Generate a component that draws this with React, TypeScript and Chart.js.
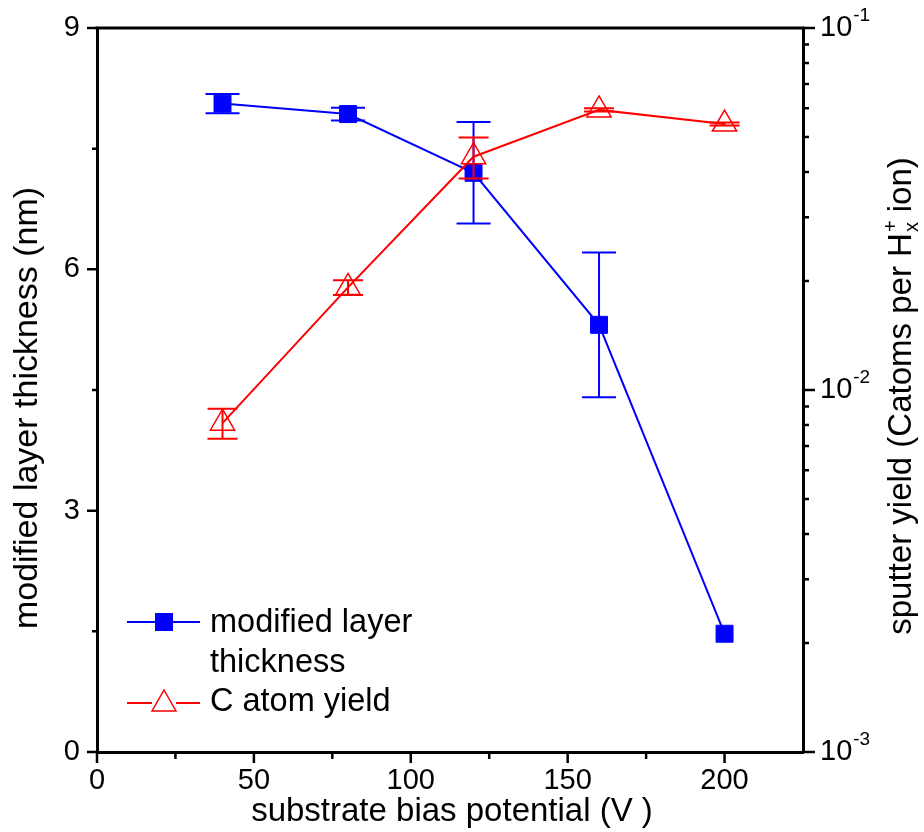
import React, { useEffect, useRef } from "react";
import { Chart, registerables } from "chart.js";

Chart.register(...registerables);

// ---- data ----
const biasV = [40, 80, 120, 160, 200];
const thickness = [8.06, 7.93, 7.2, 5.31, 1.47];
const thicknessErr = [0.12, 0.08, 0.63, 0.9, 0];
const cYield = [0.0081, 0.0192, 0.0441, 0.0594, 0.0543];
const cYieldErr = [0.00077, 0.0009, 0.0057, 0.0006, 0.0005];

const xTicks = [0, 50, 100, 150, 200];
const xMinorTicks = [25, 75, 125, 175];
const leftTicks = [0, 3, 6, 9];
const leftMinorTicks = [1.5, 4.5, 7.5];
const rightTickExps = [-1, -2, -3];

const xTitle = "substrate bias potential (V )";
const leftTitle = "modified layer thickness (nm)";
const rightTitleMain = "sputter yield (Catoms per H";
const rightTitleSup = "+";
const rightTitleSub = "x";
const rightTitleEnd = " ion)";
const legendBlue = ["modified layer", "thickness"];
const legendRed = "C atom yield";

const FONT = '"Liberation Sans", Arial, Helvetica, sans-serif';
const BLUE = "#0000ff";
const RED = "#ff0000";

const zeroPad = (s: any) => {
  s.paddingTop = 0;
  s.paddingBottom = 0;
  s.paddingLeft = 0;
  s.paddingRight = 0;
};

const extrasPlugin = {
  id: "extras",
  beforeDatasetsDraw(chart: any) {
    const ctx = chart.ctx;
    const xs = chart.scales.x;
    const yl = chart.scales.y;
    ctx.save();
    ctx.lineWidth = 2;
    ctx.strokeStyle = BLUE;
    biasV.forEach((v, i) => {
      const e = thicknessErr[i];
      if (!e) return;
      const px = xs.getPixelForValue(v);
      const y1 = yl.getPixelForValue(thickness[i] + e);
      const y2 = yl.getPixelForValue(thickness[i] - e);
      ctx.beginPath();
      ctx.moveTo(px, y1);
      ctx.lineTo(px, y2);
      ctx.moveTo(px - 17, y1);
      ctx.lineTo(px + 17, y1);
      ctx.moveTo(px - 17, y2);
      ctx.lineTo(px + 17, y2);
      ctx.stroke();
    });
    ctx.restore();
  },
  afterDatasetsDraw(chart: any) {
    const ctx = chart.ctx;
    const xs = chart.scales.x;
    const yr = chart.scales.y2;
    ctx.save();
    ctx.lineWidth = 2;
    ctx.strokeStyle = RED;
    biasV.forEach((v, i) => {
      const e = cYieldErr[i];
      if (!e) return;
      const px = xs.getPixelForValue(v);
      const y1 = yr.getPixelForValue(cYield[i] + e);
      const y2 = yr.getPixelForValue(cYield[i] - e);
      ctx.beginPath();
      ctx.moveTo(px, y1);
      ctx.lineTo(px, y2);
      ctx.moveTo(px - 15, y1);
      ctx.lineTo(px + 15, y1);
      ctx.moveTo(px - 15, y2);
      ctx.lineTo(px + 15, y2);
      ctx.stroke();
    });
    ctx.restore();
  },
  afterDraw(chart: any) {
    const ctx = chart.ctx;
    const ca = chart.chartArea;
    const xs = chart.scales.x;
    const yl = chart.scales.y;
    const yr = chart.scales.y2;
    ctx.save();
    ctx.strokeStyle = "#000";
    ctx.fillStyle = "#000";
    // top frame
    ctx.lineWidth = 3;
    ctx.beginPath();
    ctx.moveTo(ca.left - 1.5, ca.top);
    ctx.lineTo(ca.right + 1.5, ca.top);
    ctx.stroke();
    // tick marks
    ctx.lineWidth = 2.5;
    ctx.beginPath();
    xTicks.forEach((v) => {
      const p = xs.getPixelForValue(v);
      ctx.moveTo(p, ca.bottom);
      ctx.lineTo(p, ca.bottom + 11);
    });
    xMinorTicks.forEach((v) => {
      const p = xs.getPixelForValue(v);
      ctx.moveTo(p, ca.bottom);
      ctx.lineTo(p, ca.bottom + 7);
    });
    leftTicks.forEach((v) => {
      const p = yl.getPixelForValue(v);
      ctx.moveTo(ca.left, p);
      ctx.lineTo(ca.left - 10, p);
    });
    leftMinorTicks.forEach((v) => {
      const p = yl.getPixelForValue(v);
      ctx.moveTo(ca.left, p);
      ctx.lineTo(ca.left - 5, p);
    });
    rightTickExps.forEach((k) => {
      const p = yr.getPixelForValue(Math.pow(10, k));
      ctx.moveTo(ca.right, p);
      ctx.lineTo(ca.right + 12, p);
      if (k > -3) {
        for (let m = 2; m <= 9; m++) {
          const q = yr.getPixelForValue(m * Math.pow(10, k - 1));
          ctx.moveTo(ca.right, q);
          ctx.lineTo(ca.right + 6, q);
        }
      }
    });
    ctx.stroke();

    // right tick labels 10^k
    rightTickExps.forEach((k) => {
      const p = yr.getPixelForValue(Math.pow(10, k));
      ctx.font = `29px ${FONT}`;
      ctx.textAlign = "left";
      ctx.textBaseline = "middle";
      const x0 = ca.right + 17;
      ctx.fillText("10", x0, p);
      const w = ctx.measureText("10").width;
      ctx.font = `19px ${FONT}`;
      ctx.fillText(String(k), x0 + w + 1, p - 12);
    });

    // axis titles
    ctx.font = `33px ${FONT}`;
    ctx.textAlign = "center";
    ctx.textBaseline = "middle";
    ctx.fillText(xTitle, 452, 812);

    ctx.save();
    ctx.font = `34px ${FONT}`;
    ctx.translate(28, 408);
    ctx.rotate(-Math.PI / 2);
    ctx.fillText(leftTitle, 0, 0);
    ctx.restore();

    ctx.save();
    ctx.translate(902, 396);
    ctx.rotate(-Math.PI / 2);
    ctx.textAlign = "left";
    ctx.font = `33px ${FONT}`;
    const w1 = ctx.measureText(rightTitleMain).width;
    const w3 = ctx.measureText(rightTitleEnd).width;
    ctx.font = `20px ${FONT}`;
    const w2 = Math.max(ctx.measureText(rightTitleSup).width, ctx.measureText(rightTitleSub).width);
    const total = w1 + w2 + w3;
    let cx = -total / 2;
    ctx.font = `33px ${FONT}`;
    ctx.fillText(rightTitleMain, cx, 0);
    cx += w1;
    ctx.font = `20px ${FONT}`;
    ctx.fillText(rightTitleSup, cx + 1, -11);
    ctx.fillText(rightTitleSub, cx + 1, 10);
    cx += w2;
    ctx.font = `33px ${FONT}`;
    ctx.fillText(rightTitleEnd, cx, 0);
    ctx.restore();

    // legend
    ctx.lineWidth = 2;
    ctx.strokeStyle = BLUE;
    ctx.beginPath();
    ctx.moveTo(127, 622);
    ctx.lineTo(200, 622);
    ctx.stroke();
    ctx.fillStyle = BLUE;
    ctx.fillRect(155, 613, 18, 18);
    ctx.strokeStyle = RED;
    ctx.beginPath();
    ctx.moveTo(127, 703);
    ctx.lineTo(152, 703);
    ctx.moveTo(176, 703);
    ctx.lineTo(200, 703);
    ctx.stroke();
    ctx.lineWidth = 1.5;
    ctx.beginPath();
    ctx.moveTo(164, 690);
    ctx.lineTo(176, 711);
    ctx.lineTo(152, 711);
    ctx.closePath();
    ctx.stroke();

    ctx.fillStyle = "#000";
    ctx.font = `32.5px ${FONT}`;
    ctx.textAlign = "left";
    ctx.textBaseline = "alphabetic";
    ctx.fillText(legendBlue[0], 210, 632);
    ctx.fillText(legendBlue[1], 210, 672);
    ctx.fillText(legendRed, 210, 711);
    ctx.restore();
  },
};

export default function App() {
  const ref = useRef<HTMLCanvasElement | null>(null);
  useEffect(() => {
    if (!ref.current) return;
    const chart = new Chart(ref.current, {
      type: "line",
      data: {
        datasets: [
          {
            label: "modified layer thickness",
            data: biasV.map((x, i) => ({ x, y: thickness[i] })),
            yAxisID: "y",
            borderColor: BLUE,
            backgroundColor: BLUE,
            borderWidth: 2,
            pointStyle: "rect",
            pointRadius: 12,
            pointHoverRadius: 12,
            pointBorderWidth: 1,
            pointBackgroundColor: BLUE,
            pointBorderColor: BLUE,
            tension: 0,
            order: 2,
            clip: false,
          } as any,
          {
            label: "C atom yield",
            data: biasV.map((x, i) => ({ x, y: cYield[i] })),
            yAxisID: "y2",
            borderColor: RED,
            backgroundColor: "rgba(0,0,0,0)",
            borderWidth: 2,
            pointStyle: "triangle",
            pointRadius: 14,
            pointHoverRadius: 14,
            pointBorderWidth: 1.5,
            pointBackgroundColor: "rgba(0,0,0,0)",
            pointBorderColor: RED,
            tension: 0,
            order: 1,
            clip: false,
          } as any,
        ],
      },
      options: {
        responsive: false,
        animation: false,
        events: [],
        layout: { padding: { top: 28, left: 0, right: 0, bottom: 0 } },
        plugins: { legend: { display: false }, tooltip: { enabled: false } },
        scales: {
          x: {
            type: "linear",
            min: 0,
            max: 225,
            afterBuildTicks: (s: any) => {
              s.ticks = xTicks.map((v) => ({ value: v }));
            },
            afterFit: (s: any) => {
              s.height = 80;
              zeroPad(s);
            },
            grid: { display: false, drawTicks: false },
            border: { display: true, color: "#000", width: 3 },
            ticks: {
              color: "#000",
              font: { family: FONT, size: 29 },
              padding: 12,
              maxRotation: 0,
              autoSkip: false,
            },
          },
          y: {
            type: "linear",
            position: "left",
            min: 0,
            max: 9,
            afterBuildTicks: (s: any) => {
              s.ticks = leftTicks.map((v) => ({ value: v }));
            },
            afterFit: (s: any) => {
              s.width = 97;
              zeroPad(s);
            },
            grid: { display: false, drawTicks: false },
            border: { display: true, color: "#000", width: 3 },
            ticks: {
              color: "#000",
              font: { family: FONT, size: 29 },
              padding: 17,
              autoSkip: false,
            },
          },
          y2: {
            type: "logarithmic",
            position: "right",
            min: 0.001,
            max: 0.1,
            afterFit: (s: any) => {
              s.width = 121;
              zeroPad(s);
            },
            grid: { display: false, drawTicks: false },
            border: { display: true, color: "#000", width: 3 },
            ticks: { display: false },
          },
        },
      } as any,
      plugins: [extrasPlugin],
    });
    return () => chart.destroy();
  }, []);
  return (
    <div style={{ position: "absolute", left: 0, top: 0, width: 924, height: 832, background: "#fff" }}>
      <canvas ref={ref} width={924} height={832} style={{ display: "block" }} />
    </div>
  );
}
